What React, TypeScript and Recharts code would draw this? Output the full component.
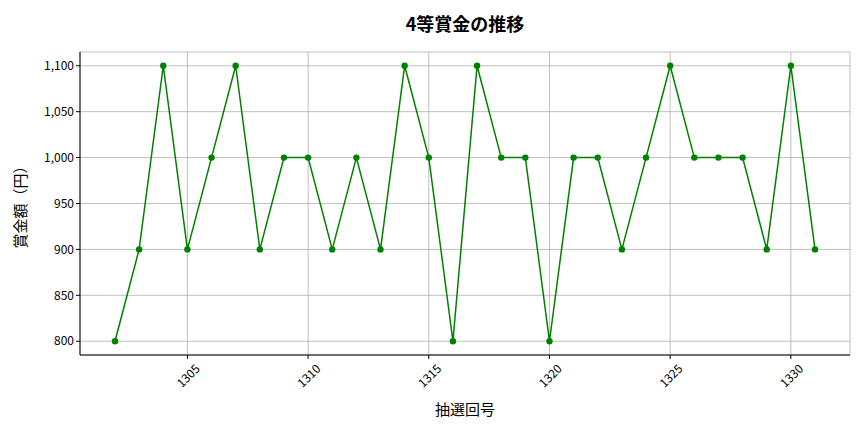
import React from 'react';
import {
  LineChart,
  Line,
  XAxis,
  YAxis,
  CartesianGrid,
} from 'recharts';

const draws = [
  1302, 1303, 1304, 1305, 1306, 1307, 1308, 1309, 1310, 1311,
  1312, 1313, 1314, 1315, 1316, 1317, 1318, 1319, 1320, 1321,
  1322, 1323, 1324, 1325, 1326, 1327, 1328, 1329, 1330, 1331,
];
const prizes = [
  800, 900, 1100, 900, 1000, 1100, 900, 1000, 1000, 900,
  1000, 900, 1100, 1000, 800, 1100, 1000, 1000, 800, 1000,
  1000, 900, 1000, 1100, 1000, 1000, 1000, 900, 1100, 900,
];
const xTicks = [1305, 1310, 1315, 1320, 1325, 1330];
const yTicks = [800, 850, 900, 950, 1000, 1050, 1100];

const data = draws.map((d, i) => ({ draw: d, prize: prizes[i] }));

const FONT = '"Noto Sans CJK JP", "Noto Sans", sans-serif';

// matplotlib-style 45° labels, centred under the tick
function RotatedTick(props: any) {
  const { x, y, payload } = props;
  return (
    <g transform={`translate(${x},${y + 14})`}>
      <text
        transform="rotate(-45)"
        textAnchor="middle"
        dominantBaseline="central"
        fontSize={12}
        fontFamily={FONT}
        fill="#000"
      >
        {payload.value}
      </text>
    </g>
  );
}

export default function App() {
  return (
    <div style={{ position: 'fixed', left: 0, top: 0, width: 864, height: 432, background: '#fff' }}>
      <div
        style={{
          position: 'absolute', top: 10, left: 80, width: 770, textAlign: 'center',
          fontFamily: FONT, fontSize: 18, fontWeight: 700, color: '#000',
        }}
      >
        4等賞金の推移
      </div>
      <LineChart
        width={864}
        height={432}
        data={data}
        margin={{ top: 52, right: 14, left: 0, bottom: 0 }}
      >
        <CartesianGrid stroke="#b0b0b0" strokeWidth={0.8} />
        <XAxis
          dataKey="draw"
          type="number"
          domain={[1300.55, 1332.45]}
          ticks={xTicks}
          tick={<RotatedTick />}
          tickSize={4}
          tickLine={{ stroke: '#000' }}
          axisLine={{ stroke: '#000' }}
          height={77}
          interval={0}
          allowDataOverflow
          label={{ value: '抽選回号', position: 'insideBottom', offset: 17, fontSize: 15, fontFamily: FONT, fill: '#000' }}
        />
        <XAxis xAxisId="top" orientation="top" dataKey="draw" type="number" domain={[1300.55, 1332.45]} tick={false} tickLine={false} axisLine={{ stroke: '#000' }} height={0} />
        <YAxis
          type="number"
          domain={[785, 1115]}
          ticks={yTicks}
          tickSize={4}
          tickLine={{ stroke: '#000' }}
          axisLine={{ stroke: '#000' }}
          tickFormatter={(v: number) => v.toLocaleString('en-US')}
          tick={{ fontSize: 12, fontFamily: FONT, fill: '#000' }}
          width={80}
          interval={0}
          allowDataOverflow
          label={{ value: '賞金額（円）', angle: -90, position: 'insideLeft', offset: 21, fontSize: 15, fontFamily: FONT, fill: '#000', style: { textAnchor: 'middle' } }}
        />
        <YAxis yAxisId="right" orientation="right" domain={[785, 1115]} tick={false} tickLine={false} axisLine={{ stroke: '#000' }} width={0} />
        <Line
          type="linear"
          dataKey="prize"
          stroke="#008000"
          strokeWidth={1.5}
          dot={{ r: 3.2, fill: '#008000', stroke: '#008000', strokeWidth: 0 }}
          isAnimationActive={false}
        />
      </LineChart>
    </div>
  );
}
